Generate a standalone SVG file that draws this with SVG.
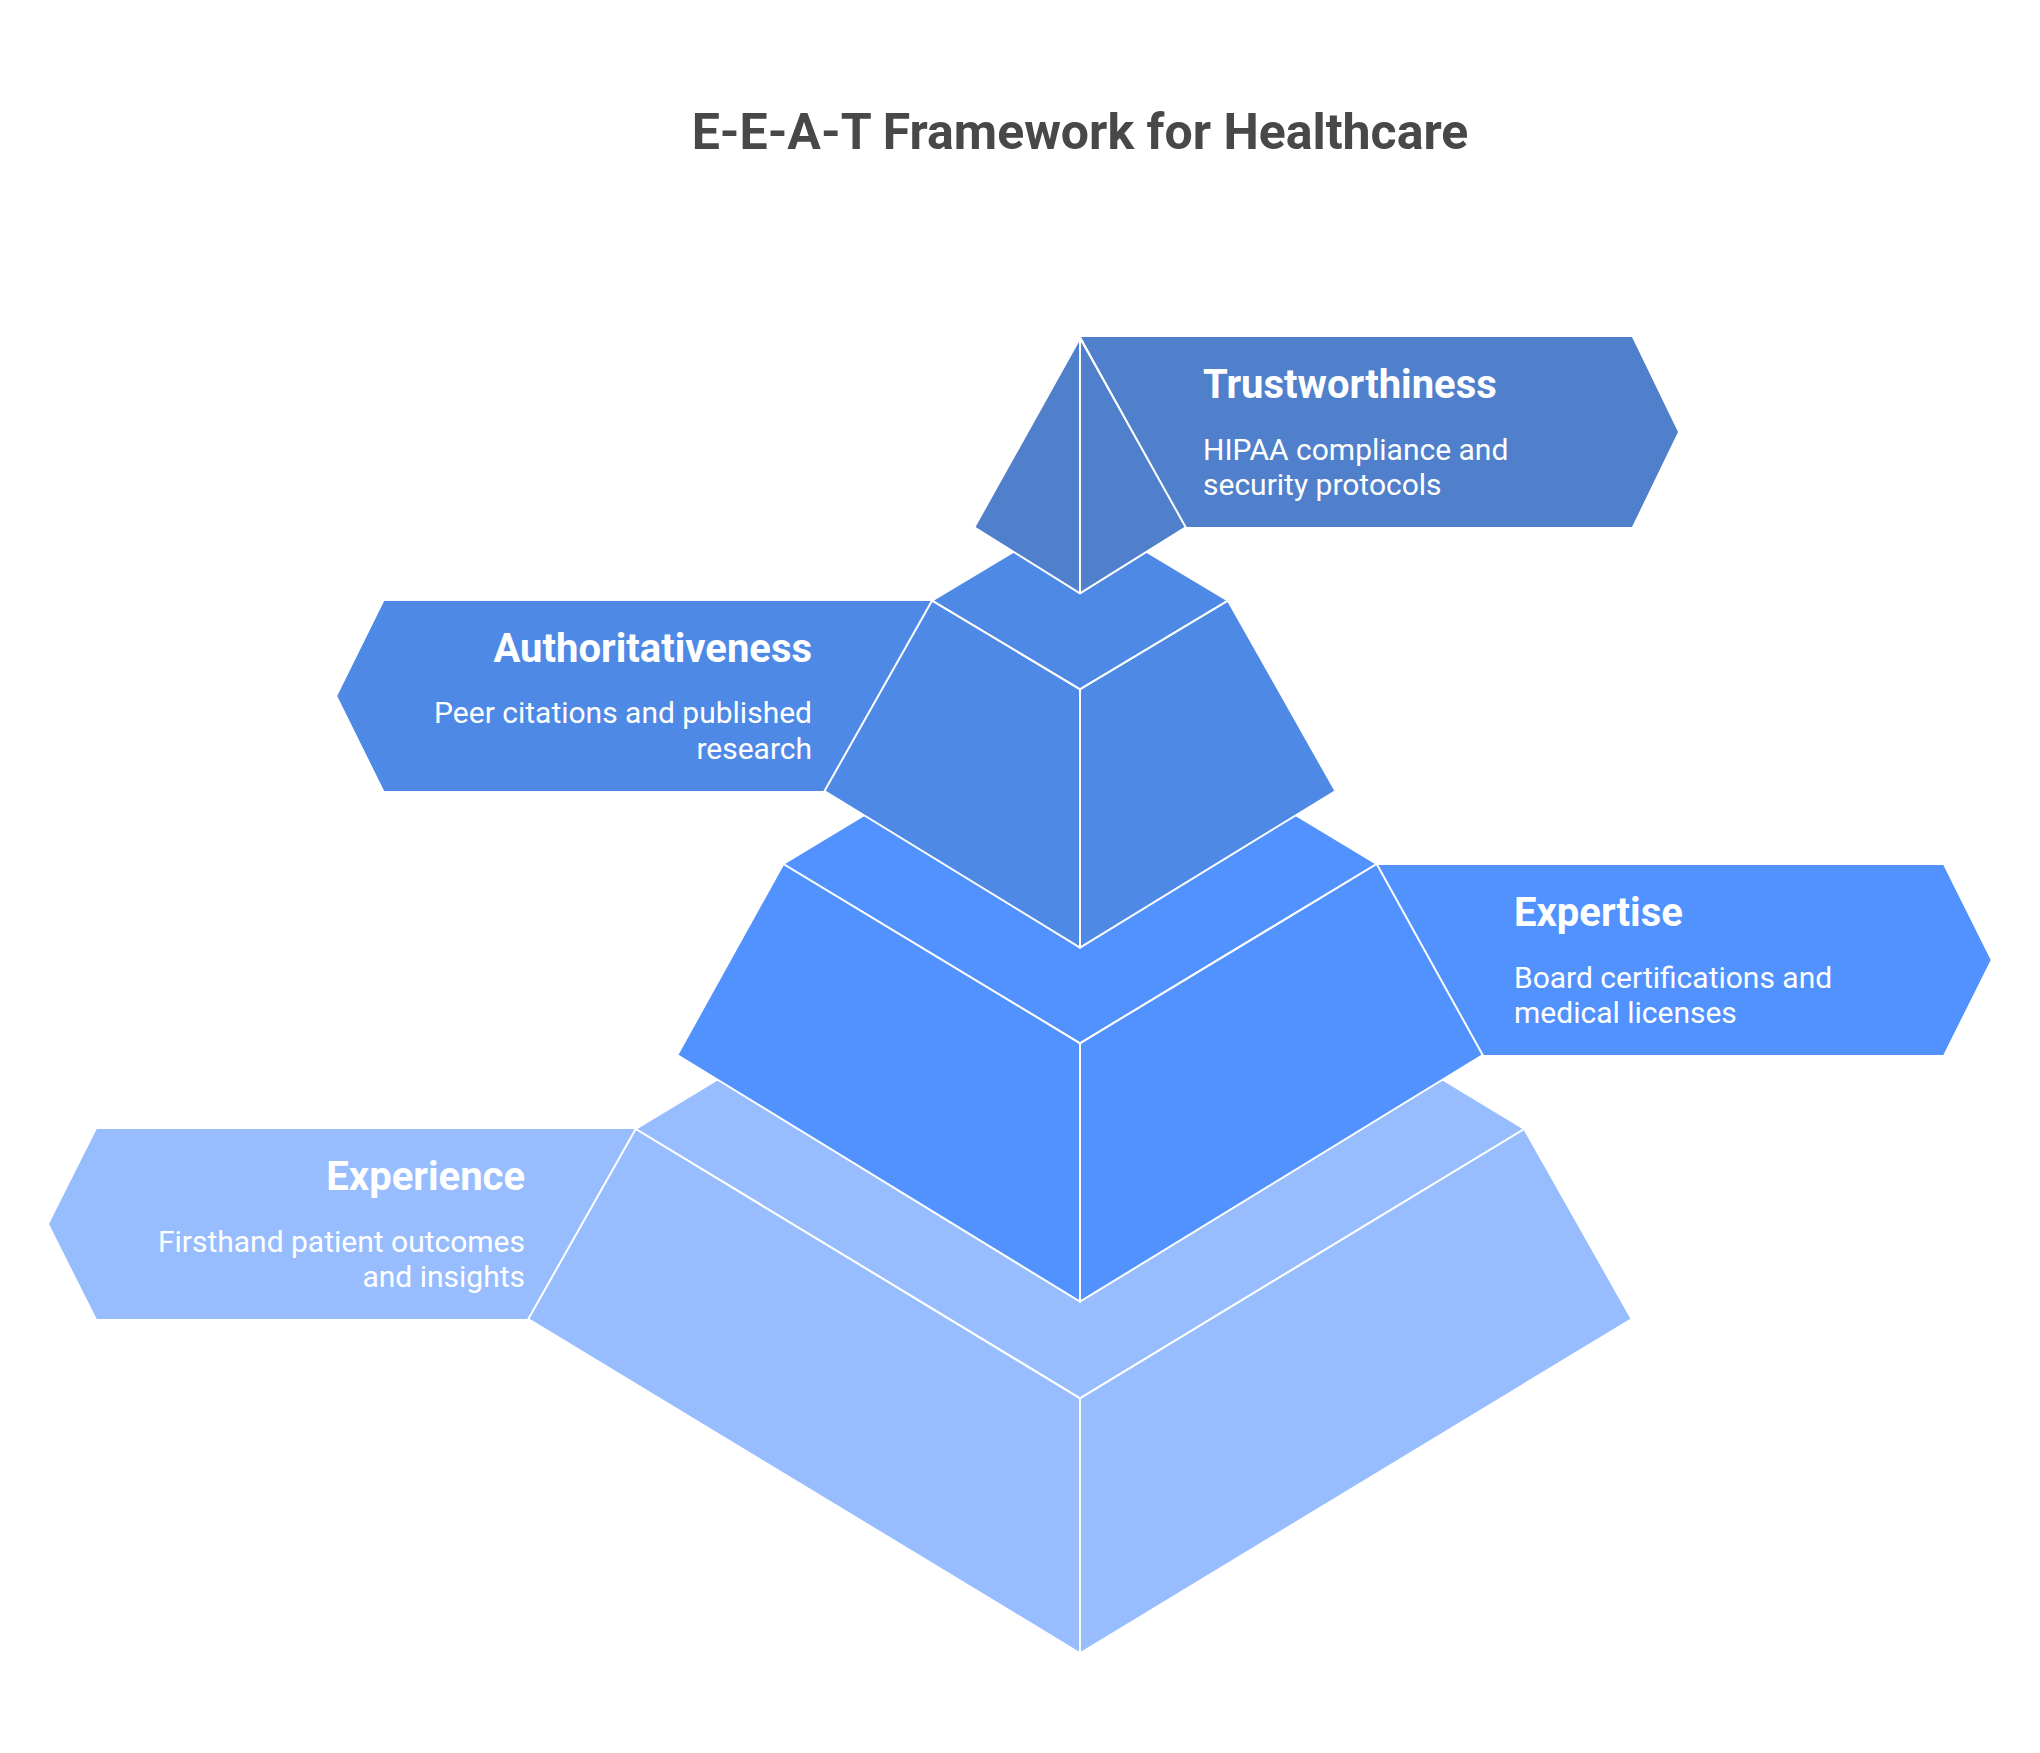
<svg xmlns="http://www.w3.org/2000/svg" width="2040" height="1753" viewBox="0 0 2040 1753">
<style>
.face{stroke:#ffffff;stroke-width:2;stroke-linejoin:round}
.tab{stroke:none}
.l1{fill:#5080CB}
.l2{fill:#4F89E6}
.l3{fill:#5192FF}
.l4{fill:#97BDFF}
.ttl{font-family:Roboto,"Liberation Sans",sans-serif;font-weight:700;font-size:40px;fill:#ffffff}
.dsc{font-family:Roboto,"Liberation Sans",sans-serif;font-weight:400;font-size:30px;fill:#ffffff}
.main{font-family:Roboto,"Liberation Sans",sans-serif;font-weight:700;font-size:50px;fill:#484848}
</style>
<rect width="2040" height="1753" fill="#ffffff"/>
<text class="main" x="1080" y="149" text-anchor="middle">E-E-A-T Framework for Healthcare</text>
<g id="connectors"></g>
<g id="experience">
<polygon class="tab l4" points="96.7,1129 635.7,1129 528.3,1319 96.7,1319 49,1224"/>
<polygon class="face l4" points="635.7,1129 1080,860 1524.3,1129 1080,1398.3"/>
<polygon class="face l4" points="635.7,1129 1080,1398.3 1080,1653.3 528.3,1319"/>
<polygon class="face l4" points="1080,1398.3 1524.3,1129 1631.7,1319 1080,1653.3"/>
<text class="ttl" x="525" y="1190" text-anchor="end">Experience</text>
<text class="dsc" x="525" y="1252" text-anchor="end">Firsthand patient outcomes</text>
<text class="dsc" x="525" y="1287" text-anchor="end">and insights</text>
</g>
<g id="expertise">
<polygon class="tab l3" points="1376.7,865 1943.3,865 1990.7,960 1943.3,1055 1482.7,1055"/>
<polygon class="face l3" points="783.3,864 1080,684.7 1376.7,864 1080,1043.3"/>
<polygon class="face l3" points="783.3,864 1080,1043.3 1080,1301.7 677.3,1055"/>
<polygon class="face l3" points="1080,1043.3 1376.7,864 1482.7,1055 1080,1301.7"/>
<text class="ttl" x="1514" y="926">Expertise</text>
<text class="dsc" x="1514" y="987.5">Board certifications and</text>
<text class="dsc" x="1514" y="1023">medical licenses</text>
</g>
<g id="authoritativeness">
<polygon class="tab l2" points="384.2,601 932,601 824.5,791 384.2,791 337.2,696"/>
<polygon class="face l2" points="932,600.7 1080,512 1228,600.7 1080,689.3"/>
<polygon class="face l2" points="932,600.7 1080,689.3 1080,947.7 824.5,791"/>
<polygon class="face l2" points="1080,689.3 1228,600.7 1335.5,791 1080,947.7"/>
<text class="ttl" x="812" y="661.7" text-anchor="end">Authoritativeness</text>
<text class="dsc" x="812" y="723.3" text-anchor="end">Peer citations and published</text>
<text class="dsc" x="812" y="759" text-anchor="end">research</text>
</g>
<g id="trustworthiness">
<polygon class="tab l1" points="1081,337 1632,337 1678,432 1632,527 1186,527"/>
<polygon class="face l1" points="1080,338 974.3,527.3 1080,593.3"/>
<polygon class="face l1" points="1080,338 1080,593.3 1185.7,527.3"/>
<text class="ttl" x="1203" y="398.3">Trustworthiness</text>
<text class="dsc" x="1203" y="460">HIPAA compliance and</text>
<text class="dsc" x="1203" y="495">security protocols</text>
</g>
</svg>
